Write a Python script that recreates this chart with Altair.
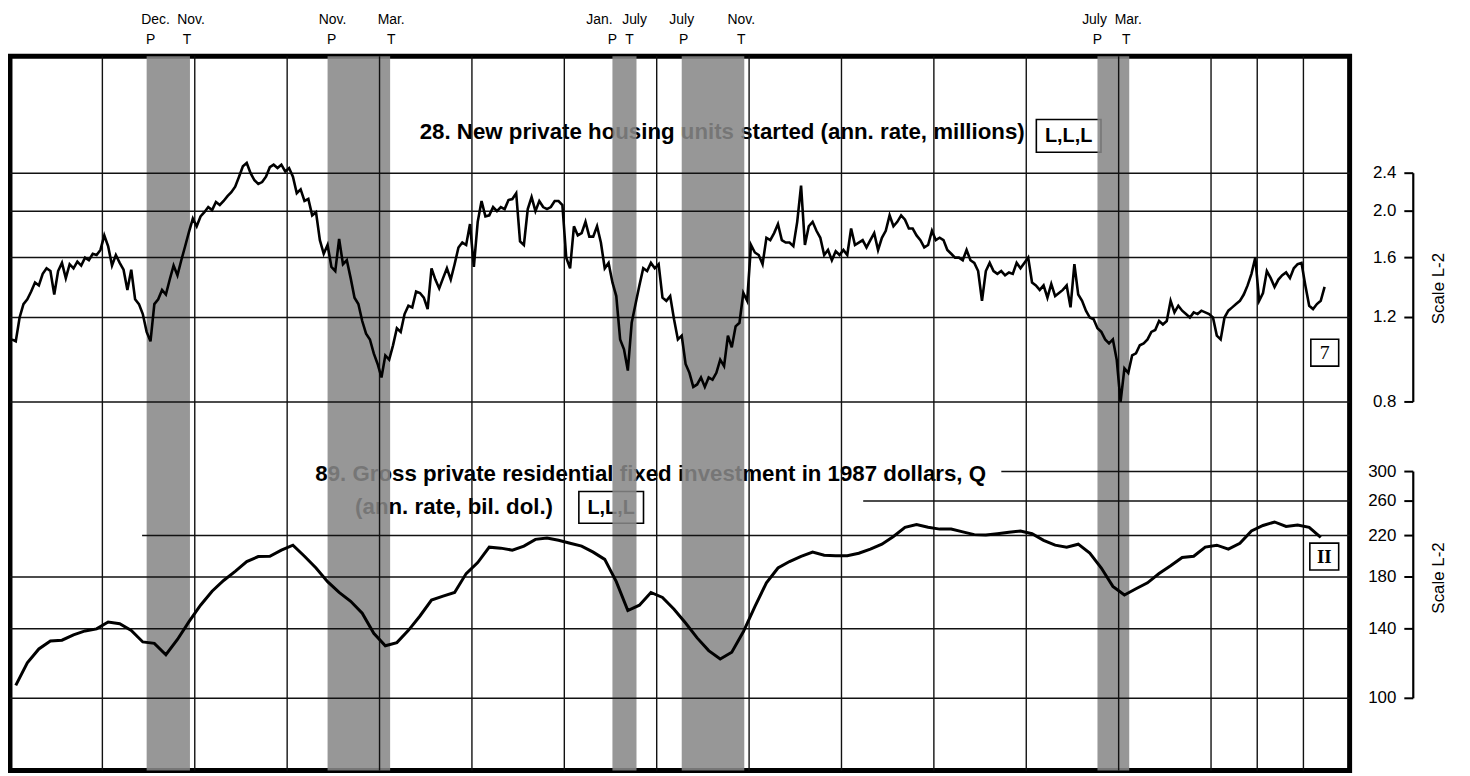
import altair as alt
import numpy as np
import pandas as pd

# ---------------- data ----------------
START_YEAR = 1967
END_YEAR = 1996

# 28. New private housing units started (ann. rate, millions), monthly from Jan 1967
HOUSING_1967_1970 = [
    1.08, 1.07, 1.20, 1.28, 1.31, 1.36, 1.42, 1.40, 1.48, 1.52, 1.50, 1.34,
    1.50, 1.56, 1.45, 1.55, 1.52, 1.57, 1.54, 1.60, 1.58, 1.63, 1.62, 1.66,
    1.78, 1.69, 1.54, 1.62, 1.56, 1.51, 1.37, 1.51, 1.31, 1.28, 1.22, 1.12,
    1.07, 1.28, 1.31, 1.37, 1.34, 1.44, 1.54, 1.47, 1.58, 1.69, 1.81, 1.93,
]
HOUSING_1971_1975 = [
    1.86, 1.95, 1.99, 2.04, 2.01, 2.09, 2.06, 2.10, 2.15, 2.19, 2.25, 2.36,
    2.48, 2.52, 2.40, 2.32, 2.28, 2.30, 2.36, 2.47, 2.50, 2.46, 2.50, 2.42,
    2.46, 2.36, 2.18, 2.22, 2.10, 2.12, 1.96, 1.99, 1.74, 1.63, 1.70, 1.53,
    1.50, 1.75, 1.55, 1.58, 1.45, 1.32, 1.28, 1.18, 1.11, 1.08, 1.01, 0.96,
    0.90, 1.00, 0.98, 1.05, 1.14, 1.12, 1.22, 1.27, 1.26, 1.36, 1.35, 1.32,
]
HOUSING_1976_1980 = [
    1.25, 1.52, 1.44, 1.38, 1.45, 1.52, 1.44, 1.55, 1.68, 1.72, 1.70, 1.88,
    1.53, 1.90, 2.10, 1.95, 1.96, 2.04, 2.00, 2.04, 2.02, 2.11, 2.12, 2.18,
    1.73, 1.70, 2.02, 2.14, 2.00, 2.10, 2.04, 2.02, 2.04, 2.10, 2.10, 2.06,
    1.60, 1.52, 1.86, 1.78, 1.80, 1.90, 1.77, 1.77, 1.86, 1.72, 1.52, 1.56,
    1.42, 1.33, 1.08, 1.03, 0.93, 1.17, 1.28, 1.40, 1.52, 1.50, 1.56, 1.52,
]
HOUSING_1981_1985 = [
    1.55, 1.32, 1.30, 1.33, 1.19, 1.08, 1.10, 0.96, 0.92, 0.86, 0.87, 0.90,
    0.86, 0.90, 0.89, 0.92, 0.98, 0.95, 1.10, 1.04, 1.15, 1.17, 1.35, 1.30,
    1.70, 1.64, 1.62, 1.55, 1.76, 1.74, 1.80, 1.88, 1.74, 1.72, 1.72, 1.69,
    1.90, 2.26, 1.70, 1.86, 1.90, 1.82, 1.76, 1.62, 1.66, 1.58, 1.65, 1.62,
    1.66, 1.62, 1.84, 1.70, 1.72, 1.74, 1.68, 1.74, 1.80, 1.66, 1.76, 1.82,
]
HOUSING_1986_1990 = [
    1.96, 1.86, 1.90, 1.96, 1.92, 1.84, 1.84, 1.78, 1.74, 1.68, 1.70, 1.82,
    1.74, 1.76, 1.74, 1.66, 1.63, 1.60, 1.60, 1.58, 1.66, 1.58, 1.56, 1.50,
    1.30, 1.50, 1.56, 1.50, 1.48, 1.50, 1.47, 1.49, 1.48, 1.56, 1.52, 1.56,
    1.60, 1.42, 1.40, 1.37, 1.40, 1.32, 1.41, 1.33, 1.35, 1.37, 1.40, 1.26,
    1.55, 1.34, 1.30, 1.24, 1.20, 1.19, 1.14, 1.12, 1.08, 1.06, 1.08, 0.98,
]
HOUSING_1991_1995 = [
    0.80, 0.94, 0.92, 1.00, 1.01, 1.05, 1.06, 1.08, 1.12, 1.13, 1.18, 1.16,
    1.18, 1.30, 1.23, 1.27, 1.24, 1.22, 1.20, 1.23, 1.22, 1.24, 1.23, 1.22,
    1.20, 1.10, 1.08, 1.20, 1.24, 1.26, 1.28, 1.30, 1.34, 1.40, 1.48, 1.60,
    1.30, 1.35, 1.50, 1.45, 1.39, 1.44, 1.47, 1.49, 1.45, 1.52, 1.55, 1.56,
    1.40, 1.27, 1.25, 1.28, 1.30, 1.39,
]

# 89. Gross private residential fixed investment in 1987 dollars, quarterly from 1967 Q1
RESID_INVEST = [
    106.5, 118.8, 127, 132,
    132.5, 136, 138.6, 140,
    144.7, 143.5, 139, 131.4,
    130.5, 123.5, 133, 145,
    157, 168, 177, 185,
    194, 198.7, 199, 205,
    210, 199, 188, 176,
    167, 160, 151, 137,
    129, 131, 139, 149,
    161, 164, 167, 183,
    193, 208, 207, 205,
    209, 216, 217.5, 215,
    212, 209, 203, 196,
    176, 153, 157, 167,
    163, 154, 144, 134,
    126, 121, 125, 138,
    156, 175, 188, 194,
    199, 203, 200, 199.6,
    199.6, 202, 206, 211,
    219, 229, 232, 229,
    227, 227, 224, 221,
    220.5, 222, 223.5, 225,
    222, 215, 210, 208,
    211, 202, 188, 172,
    165, 170, 175, 183,
    190, 197.8, 199, 208,
    210, 206, 212, 225,
    231, 235, 230, 231.5,
    229, 218,
]

# business-cycle peaks (P) and troughs (T)
CYCLE_MONTHS = ["Dec.", "Nov.", "Nov.", "Mar.", "Jan.", "July", "July", "Nov.", "July", "Mar."]
CYCLE_TYPES = ["P", "T", "P", "T", "P", "T", "P", "T", "P", "T"]
CYCLE_YEARS = [1969, 1970, 1973, 1975, 1980, 1980, 1981, 1982, 1990, 1991]
CYCLE_MONTH_NUM = [12, 11, 11, 3, 1, 7, 7, 11, 7, 3]

GRID_YEARS = [1969, 1971, 1973, 1975, 1977, 1979, 1981, 1983, 1985, 1987,
              1989, 1991, 1993, 1994, 1995]
UPPER_TICKS = [2.4, 2.0, 1.6, 1.2, 0.8]
UPPER_TICK_LABELS = ["2.4", "2.0", "1.6", "1.2", "0.8"]
LOWER_TICKS = [300, 260, 220, 180, 140, 100]
LOWER_TICK_LABELS = ["300", "260", "220", "180", "140", "100"]
LOWER_GRID_FROM = [1988.46, 1985.47, 1969.86, 1967, 1967, 1967]

# ---------------- layout / style ----------------
W, H = 1347, 718
PX_PER_YEAR = W / (END_YEAR - START_YEAR)
FONT_T = "Liberation Sans, Arial, sans-serif"
FONT = "Liberation Sans, Arial, sans-serif"
SERIF = "Liberation Serif, Times New Roman, serif"
SHADE = "#878787"
MONTH_DX = [9, 2, 5, 2, -13, -1, 0, -2, -3, 0]
LETTER_DX = [4, -2, 4, 2, 0, -6, 2, -2, 0, -2]

# plot-relative pixel positions of reference levels
UP_HI_PX, UP_LO_PX = 117.5, 347.5      # 2.4 and 0.8
LO_HI_PX, LO_LO_PX = 417.5, 645.5      # 300 and 100

k_up = (UP_LO_PX - UP_HI_PX) / np.log10(2.4 / 0.8)
up_dom = [0.8 / 10 ** ((H - UP_LO_PX) / k_up), 2.4 * 10 ** (UP_HI_PX / k_up)]
k_lo = (LO_LO_PX - LO_HI_PX) / np.log10(300 / 100)
lo_dom = [100 / 10 ** ((H - LO_LO_PX) / k_lo), 300 * 10 ** (LO_HI_PX / k_lo)]

xs = alt.Scale(domain=[START_YEAR, END_YEAR], nice=False, zero=False)
ys_up = alt.Scale(type="log", domain=up_dom, nice=False, zero=False)
ys_lo = alt.Scale(type="log", domain=lo_dom, nice=False, zero=False)

housing = (HOUSING_1967_1970 + HOUSING_1971_1975 + HOUSING_1976_1980
           + HOUSING_1981_1985 + HOUSING_1986_1990 + HOUSING_1991_1995)
up_df = pd.DataFrame({
    "t": START_YEAR + (np.arange(len(housing)) + 0.5) / 12,
    "v": housing,
})
lo_df = pd.DataFrame({
    "t": START_YEAR + (np.arange(len(RESID_INVEST)) * 3 + 1.5) / 12,
    "v": RESID_INVEST,
})

ev_t = [y + (m - 0.5) / 12 for y, m in zip(CYCLE_YEARS, CYCLE_MONTH_NUM)]
shade_df = pd.DataFrame({
    "s": ev_t[0::2],
    "e": [y + (m - 0.25) / 12 for y, m in zip(CYCLE_YEARS[1::2], CYCLE_MONTH_NUM[1::2])],
})
mon_df = pd.DataFrame({
    "t": [t + dx / PX_PER_YEAR for t, dx in zip(ev_t, MONTH_DX)],
    "label": CYCLE_MONTHS,
})
let_df = pd.DataFrame({
    "t": [t + dx / PX_PER_YEAR for t, dx in zip(ev_t, LETTER_DX)],
    "label": CYCLE_TYPES,
})
grid_df = pd.DataFrame({"year": GRID_YEARS})
up_tick_df = pd.DataFrame({"v": UPPER_TICKS, "label": UPPER_TICK_LABELS})
lo_tick_df = pd.DataFrame({"v": LOWER_TICKS, "label": LOWER_TICK_LABELS,
                           "x0": LOWER_GRID_FROM, "x1": [END_YEAR] * len(LOWER_TICKS)})
up_span_df = pd.DataFrame({"a": [min(UPPER_TICKS)], "b": [max(UPPER_TICKS)]})
lo_span_df = pd.DataFrame({"a": [min(LOWER_TICKS)], "b": [max(LOWER_TICKS)]})

X = lambda f: alt.X(f, type="quantitative", scale=xs, axis=None)
YU = lambda f: alt.Y(f, type="quantitative", scale=ys_up, axis=None)
YL = lambda f: alt.Y(f, type="quantitative", scale=ys_lo, axis=None)

one = pd.DataFrame({"k": [0]})


def text_at(txt, x, y, size, font=FONT_T, weight="bold", align="left", angle=0):
    return alt.Chart(one).mark_text(
        text=txt, font=font, fontSize=size, fontWeight=weight, align=align,
        baseline="middle", angle=angle, color="black",
    ).encode(x=alt.value(x), y=alt.value(y))


def box_at(x0, x1, y0, y1):
    return alt.Chart(one).mark_rect(
        fill="white", fillOpacity=0, stroke="black", strokeWidth=1.6
    ).encode(x=alt.value(x0), x2=alt.value(x1), y=alt.value(y0), y2=alt.value(y1))


# ---- text that sits under the stippled shading ----
titles = [
    text_at("28. New private housing units started (ann. rate, millions)", 412, 76, 22.4),
    box_at(1032, 1097, 63.5, 96.5),
    text_at("L,L,L", 1064.5, 80.5, 20, align="center"),
    text_at("89. Gross private residential fixed investment in 1987 dollars, Q", 307, 420, 22.4),
    text_at("(ann. rate, bil. dol.)", 347, 453, 22.4),
    box_at(572, 637, 437.5, 469.5),
    text_at("L,L,L", 604.5, 454, 20, align="center"),
    box_at(1308, 1336, 284.5, 311.5),
    text_at("7", 1322, 298.5, 20, font=SERIF, weight="normal", align="center"),
    box_at(1307, 1336, 489.5, 516.5),
    text_at("II", 1321.5, 503.5, 19, font=SERIF, weight="bold", align="center"),
]

shades = alt.Chart(shade_df).mark_rect(color=SHADE, opacity=0.87).encode(
    x=X("s"), x2="e")

vgrid = alt.Chart(grid_df).mark_rule(color="#111", strokeWidth=1.4).encode(x=X("year"))
hgrid_up = alt.Chart(up_tick_df).mark_rule(color="#111", strokeWidth=1.5).encode(y=YU("v"))
hgrid_lo = alt.Chart(lo_tick_df).mark_rule(color="#111", strokeWidth=1.5).encode(
    x=X("x0"), x2="x1", y=YL("v"))

line_up = alt.Chart(up_df).mark_line(color="black", strokeWidth=2.6,
                                     strokeJoin="miter").encode(x=X("t"), y=YU("v"))
line_lo = alt.Chart(lo_df).mark_line(color="black", strokeWidth=3).encode(
    x=X("t"), y=YL("v"))

# ---- right-hand scales ----
AX_SPINE, AX_TICK0, AX_LABEL = 1411, 1402, 1394
up_ticks = alt.Chart(up_tick_df).mark_rule(color="black", strokeWidth=2).encode(
    y=YU("v"), x=alt.value(AX_TICK0), x2=alt.value(AX_SPINE))
up_spine = alt.Chart(up_span_df).mark_rule(color="black", strokeWidth=2.2).encode(
    y=YU("a"), y2="b", x=alt.value(AX_SPINE))
up_labels = alt.Chart(up_tick_df).mark_text(
    font=FONT, fontSize=17, align="right", baseline="middle", color="black"
).encode(y=YU("v"), x=alt.value(AX_LABEL), text="label:N")
lo_ticks = alt.Chart(lo_tick_df).mark_rule(color="black", strokeWidth=2).encode(
    y=YL("v"), x=alt.value(AX_TICK0), x2=alt.value(AX_SPINE))
lo_spine = alt.Chart(lo_span_df).mark_rule(color="black", strokeWidth=2.2).encode(
    y=YL("a"), y2="b", x=alt.value(AX_SPINE))
lo_labels = alt.Chart(lo_tick_df).mark_text(
    font=FONT, fontSize=17, align="right", baseline="middle", color="black"
).encode(y=YL("v"), x=alt.value(AX_LABEL), text="label:N")

scale_names = [
    text_at("Scale L-2", 1437, 233.5, 17, font=FONT, weight="normal", align="center", angle=270),
    text_at("Scale L-2", 1437, 524.5, 17, font=FONT, weight="normal", align="center", angle=270),
]

# ---- peak / trough labels above the frame ----
mon_text = alt.Chart(mon_df).mark_text(
    font=FONT, fontSize=14, align="center", baseline="middle", color="black"
).encode(x=X("t"), y=alt.value(-36.5), text="label:N")
let_text = alt.Chart(let_df).mark_text(
    font=FONT, fontSize=14, align="center", baseline="middle", color="black"
).encode(x=X("t"), y=alt.value(-16.5), text="label:N")

chart = alt.layer(
    *titles, shades, vgrid, hgrid_up, hgrid_lo, line_up, line_lo,
    up_ticks, up_spine, up_labels, lo_ticks, lo_spine, lo_labels,
    *scale_names, mon_text, let_text,
).resolve_scale(y="independent").properties(
    width=W, height=H,
    autosize=alt.AutoSizeParams(type="none"),
    padding={"left": 2, "top": 46.5, "right": 113, "bottom": 0},
    background="white",
).configure_view(stroke="black", strokeWidth=5)

chart.save("out.html", embed_options={"renderer": "svg", "actions": False})
